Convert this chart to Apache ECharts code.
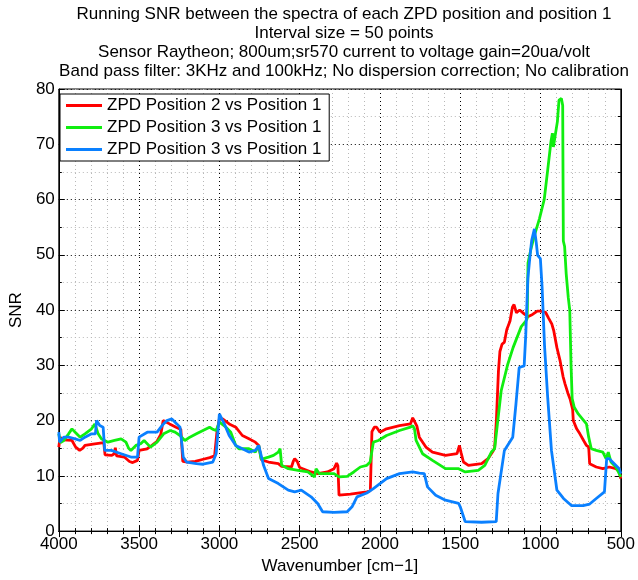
<!DOCTYPE html>
<html>
<head>
<meta charset="utf-8">
<script src="https://cdn.jsdelivr.net/npm/echarts@6/dist/echarts.min.js"></script>
<style>
  html, body { margin: 0; padding: 0; background: #fff; }
  #chart { width: 638px; height: 580px; }
</style>
</head>
<body>
<div id="chart"></div>
<script>
// Running SNR traces: wavenumber (cm-1) and SNR value for each comparison
const redWavenumber = [4000, 3992, 3975, 3918, 3895, 3870, 3850, 3837, 3776, 3720, 3712, 3670, 3655, 3648, 3640, 3592, 3560, 3540, 3510, 3500, 3450, 3420, 3390, 3365, 3350, 3335, 3310, 3270, 3240, 3228, 3200, 3150, 3100, 3060, 3030, 3015, 3000, 2980, 2939, 2898, 2857, 2816, 2776, 2755, 2745, 2738, 2694, 2633, 2612, 2551, 2540, 2531, 2515, 2500, 2490, 2429, 2388, 2327, 2286, 2270, 2262, 2255, 2184, 2082, 2060, 2050, 2035, 2021, 2000, 1980, 1959, 1878, 1810, 1796, 1785, 1770, 1755, 1714, 1673, 1592, 1520, 1505, 1495, 1480, 1449, 1367, 1327, 1295, 1286, 1275, 1262, 1253, 1240, 1225, 1210, 1190, 1175, 1165, 1150, 1130, 1102, 1079, 1050, 1020, 1000, 969, 949, 930, 918, 898, 878, 860, 847, 830, 816, 800, 796, 775, 755, 730, 714, 700, 694, 653, 612, 572, 531, 510, 500];
const redSnr = [15.2, 17.0, 16.5, 16.4, 15.2, 14.6, 15.0, 15.5, 15.8, 16.0, 13.8, 13.7, 14.0, 15.1, 13.6, 13.4, 12.6, 12.4, 12.8, 14.6, 14.9, 15.5, 16.2, 17.5, 20.0, 19.8, 19.4, 18.8, 18.4, 12.6, 12.5, 12.6, 13.0, 13.3, 13.6, 18.0, 20.3, 20.3, 19.4, 18.8, 17.3, 16.7, 16.1, 15.5, 15.2, 12.9, 12.5, 12.2, 11.7, 11.6, 12.6, 13.1, 12.6, 11.5, 11.3, 10.7, 10.4, 10.7, 11.3, 12.3, 11.8, 6.5, 6.7, 7.1, 7.3, 18.0, 18.8, 18.8, 17.9, 18.2, 18.5, 19.1, 19.4, 20.5, 20.3, 19.0, 17.0, 15.2, 14.3, 13.7, 14.0, 15.5, 14.2, 12.5, 11.9, 12.2, 13.1, 14.5, 15.0, 20.0, 29.0, 32.5, 33.8, 34.2, 36.5, 38.0, 40.5, 41.0, 39.5, 40.0, 39.3, 38.8, 39.2, 39.8, 39.8, 39.6, 38.5, 37.5, 36.3, 33.2, 30.8, 28.0, 26.6, 25.0, 23.9, 22.0, 20.0, 18.5, 17.6, 16.3, 15.5, 15.2, 12.2, 11.6, 11.3, 11.6, 11.3, 10.8, 9.5];

const greenWavenumber = [4000, 3990, 3969, 3939, 3918, 3898, 3867, 3837, 3796, 3776, 3765, 3755, 3735, 3694, 3653, 3612, 3582, 3565, 3551, 3520, 3490, 3469, 3429, 3388, 3347, 3306, 3276, 3245, 3215, 3184, 3143, 3102, 3061, 3040, 3020, 3000, 2990, 2959, 2929, 2898, 2878, 2816, 2776, 2755, 2740, 2735, 2694, 2663, 2633, 2622, 2612, 2571, 2510, 2449, 2408, 2398, 2378, 2327, 2286, 2255, 2204, 2163, 2122, 2082, 2061, 2050, 2041, 2010, 1959, 1878, 1810, 1796, 1785, 1775, 1735, 1673, 1592, 1510, 1469, 1388, 1347, 1306, 1286, 1245, 1204, 1171, 1120, 1092, 1083, 1078, 1060, 1038, 1007, 977, 956, 935, 926, 920, 912, 895, 885, 870, 862, 858, 850, 840, 827, 818, 810, 803, 790, 765, 714, 700, 684, 653, 612, 592, 578, 561, 531, 500];
const greenSnr = [17.6, 16.0, 16.4, 17.6, 18.5, 17.9, 17.0, 17.6, 18.5, 19.4, 18.5, 17.6, 16.7, 16.1, 16.4, 16.7, 16.1, 15.0, 14.6, 15.5, 15.8, 16.4, 15.2, 16.1, 17.6, 18.2, 17.9, 17.3, 16.4, 17.0, 17.6, 18.2, 18.8, 18.4, 18.2, 19.7, 20.0, 18.8, 17.9, 15.5, 14.9, 14.9, 14.3, 15.5, 13.0, 12.8, 13.4, 13.7, 14.3, 14.9, 11.9, 11.3, 11.0, 10.7, 9.8, 11.3, 10.4, 10.4, 10.4, 9.8, 9.9, 10.7, 11.6, 11.9, 12.5, 14.5, 16.1, 16.4, 17.3, 18.2, 18.8, 19.1, 18.5, 16.4, 14.0, 12.8, 11.3, 11.3, 10.7, 11.0, 11.9, 14.3, 14.9, 25.4, 30.2, 33.2, 37.0, 38.0, 38.5, 48.5, 51.0, 53.5, 56.5, 60.0, 65.2, 70.5, 72.0, 69.5, 71.0, 74.1, 78.0, 78.3, 77.0, 52.5, 51.5, 46.5, 42.2, 40.0, 30.0, 24.0, 22.4, 21.2, 19.4, 17.0, 14.9, 14.6, 14.3, 13.1, 14.3, 12.5, 11.6, 9.8];

const blueWavenumber = [4000, 3995, 3969, 3939, 3898, 3867, 3837, 3796, 3772, 3765, 3745, 3724, 3714, 3673, 3612, 3551, 3510, 3500, 3449, 3388, 3357, 3327, 3296, 3265, 3245, 3225, 3204, 3143, 3102, 3041, 3020, 3000, 2990, 2969, 2939, 2898, 2857, 2816, 2776, 2755, 2725, 2694, 2633, 2571, 2531, 2490, 2429, 2388, 2357, 2286, 2204, 2174, 2143, 2082, 2041, 1959, 1878, 1796, 1755, 1724, 1704, 1653, 1592, 1510, 1500, 1469, 1367, 1276, 1265, 1225, 1173, 1153, 1133, 1102, 1092, 1079, 1065, 1055, 1038, 1027, 1018, 1001, 990, 975, 955, 932, 898, 857, 806, 735, 694, 653, 602, 588, 572, 541, 510, 500];
const blueSnr = [17.9, 16.1, 17.0, 17.0, 16.7, 16.4, 17.0, 17.6, 17.6, 20.0, 19.1, 18.8, 14.6, 14.6, 14.0, 13.4, 13.4, 17.0, 17.9, 17.9, 19.1, 20.0, 20.3, 19.4, 18.8, 13.4, 12.5, 12.2, 12.1, 12.5, 14.0, 21.2, 21.2, 19.4, 17.3, 15.5, 14.9, 14.3, 14.6, 15.5, 11.9, 9.5, 8.6, 7.4, 7.1, 7.4, 6.2, 5.0, 3.5, 3.4, 3.5, 4.4, 6.2, 6.9, 7.7, 9.5, 10.4, 10.7, 10.5, 10.4, 8.0, 6.5, 5.6, 5.0, 4.4, 1.7, 1.6, 1.7, 6.8, 14.6, 17.0, 23.0, 29.6, 29.9, 35.5, 45.7, 50.0, 52.6, 54.7, 52.3, 49.9, 49.3, 44.0, 33.5, 24.0, 14.6, 7.4, 5.9, 4.6, 4.6, 4.9, 5.9, 7.1, 13.1, 13.1, 12.2, 11.3, 10.4];

const seriesNames = ['ZPD Position 2 vs Position 1', 'ZPD Position 3 vs Position 1', 'ZPD Position 3 vs Position 1 '];
const titleLines = [
  'Running SNR between the spectra of each ZPD position and position 1',
  'Interval size = 50 points',
  'Sensor Raytheon; 800um;sr570 current to voltage gain=20ua/volt',
  'Band pass filter: 3KHz and 100kHz; No dispersion correction; No calibration'
];
const xTickStep = 500;
const yTickStep = 10;

const FONT = '"Liberation Sans", Arial, Helvetica, sans-serif';
const zip = (xs, ys) => xs.map((x, i) => [x, ys[i]]);
const plainNumber = (v) => String(v);

const majorGrid = { show: true, lineStyle: { color: '#000', width: 1, type: [1, 3] } };
const minorGrid = { show: true, lineStyle: { color: '#b8b8b8', width: 1, type: [1, 3] } };

const chart = echarts.init(document.getElementById('chart'), null, { renderer: 'canvas' });

const makeLine = (name, data, color, z) => ({
  name, type: 'line', data, showSymbol: false, symbol: 'none',
  xAxisIndex: 0, yAxisIndex: 0, z,
  lineStyle: { color, width: 2.8 }, itemStyle: { color },
  animation: false, emphasis: { disabled: true }
});

chart.setOption({
  animation: false,
  textStyle: { fontFamily: FONT },
  title: {
    text: titleLines.join('\n'),
    left: 339, top: 0, textAlign: 'center',
    textStyle: { fontFamily: FONT, fontSize: 17, fontWeight: 'normal', color: '#000', lineHeight: 19 }
  },
  grid: { left: 53, top: 89, width: 571, height: 446, show: true, borderColor: '#000', borderWidth: 1, backgroundColor: '#fff' },
  legend: {
    orient: 'vertical', left: 60, top: 94,
    backgroundColor: '#fff', borderColor: '#000', borderWidth: 1,
    padding: [3, 3, 3, 6], itemGap: 5, itemWidth: 36, itemHeight: 3,
    icon: 'rect',
    textStyle: { fontFamily: FONT, fontSize: 17, color: '#000', height: 17, lineHeight: 17 },
    data: seriesNames
  },
  xAxis: [{
    type: 'value', inverse: true, min: 500, max: 4000, interval: xTickStep,
    position: 'bottom',
    name: 'Wavenumber [cm\u22121]', nameLocation: 'middle', nameGap: 23,
    nameTextStyle: { fontFamily: FONT, fontSize: 17, color: '#000' },
    axisLine: { show: true, lineStyle: { color: '#000', width: 1 } },
    axisTick: { show: true, inside: true, length: 6, lineStyle: { color: '#000' } },
    minorTick: { show: true, splitNumber: 5, length: 3, lineStyle: { color: '#000' } },
    axisLabel: { fontFamily: FONT, fontSize: 17, color: '#000', margin: 5, showMinLabel: true, showMaxLabel: true, formatter: plainNumber },
    splitLine: majorGrid,
    minorSplitLine: minorGrid
  }, {
    type: 'value', inverse: true, min: 500, max: 4000, interval: xTickStep,
    position: 'top',
    axisLine: { show: true, lineStyle: { color: '#000', width: 1 } },
    axisTick: { show: true, inside: true, length: 6, lineStyle: { color: '#000' } },
    minorTick: { show: true, splitNumber: 5, length: 3, lineStyle: { color: '#000' } },
    axisLabel: { show: false },
    splitLine: { show: false }
  }],
  yAxis: [{
    type: 'value', min: 0, max: 80, interval: yTickStep,
    position: 'left',
    name: 'SNR', nameLocation: 'middle', nameGap: 30, nameRotate: 90,
    nameTextStyle: { fontFamily: FONT, fontSize: 17, color: '#000' },
    axisLine: { show: true, lineStyle: { color: '#000', width: 1 } },
    axisTick: { show: true, inside: true, length: 6, lineStyle: { color: '#000' } },
    minorTick: { show: true, splitNumber: 2, length: 3, lineStyle: { color: '#000' } },
    axisLabel: { fontFamily: FONT, fontSize: 17, color: '#000', margin: 4, formatter: plainNumber },
    splitLine: majorGrid,
    minorSplitLine: minorGrid
  }, {
    type: 'value', min: 0, max: 80, interval: yTickStep,
    position: 'right',
    axisLine: { show: true, lineStyle: { color: '#000', width: 1 } },
    axisTick: { show: true, inside: true, length: 6, lineStyle: { color: '#000' } },
    minorTick: { show: true, splitNumber: 2, length: 3, lineStyle: { color: '#000' } },
    axisLabel: { show: false },
    splitLine: { show: false }
  }],
  series: [
    makeLine(seriesNames[0], zip(redWavenumber, redSnr), '#ff0000', 2),
    makeLine(seriesNames[1], zip(greenWavenumber, greenSnr), '#10ee10', 3),
    makeLine(seriesNames[2], zip(blueWavenumber, blueSnr), '#0a80ff', 4)
  ]
});
</script>
</body>
</html>
